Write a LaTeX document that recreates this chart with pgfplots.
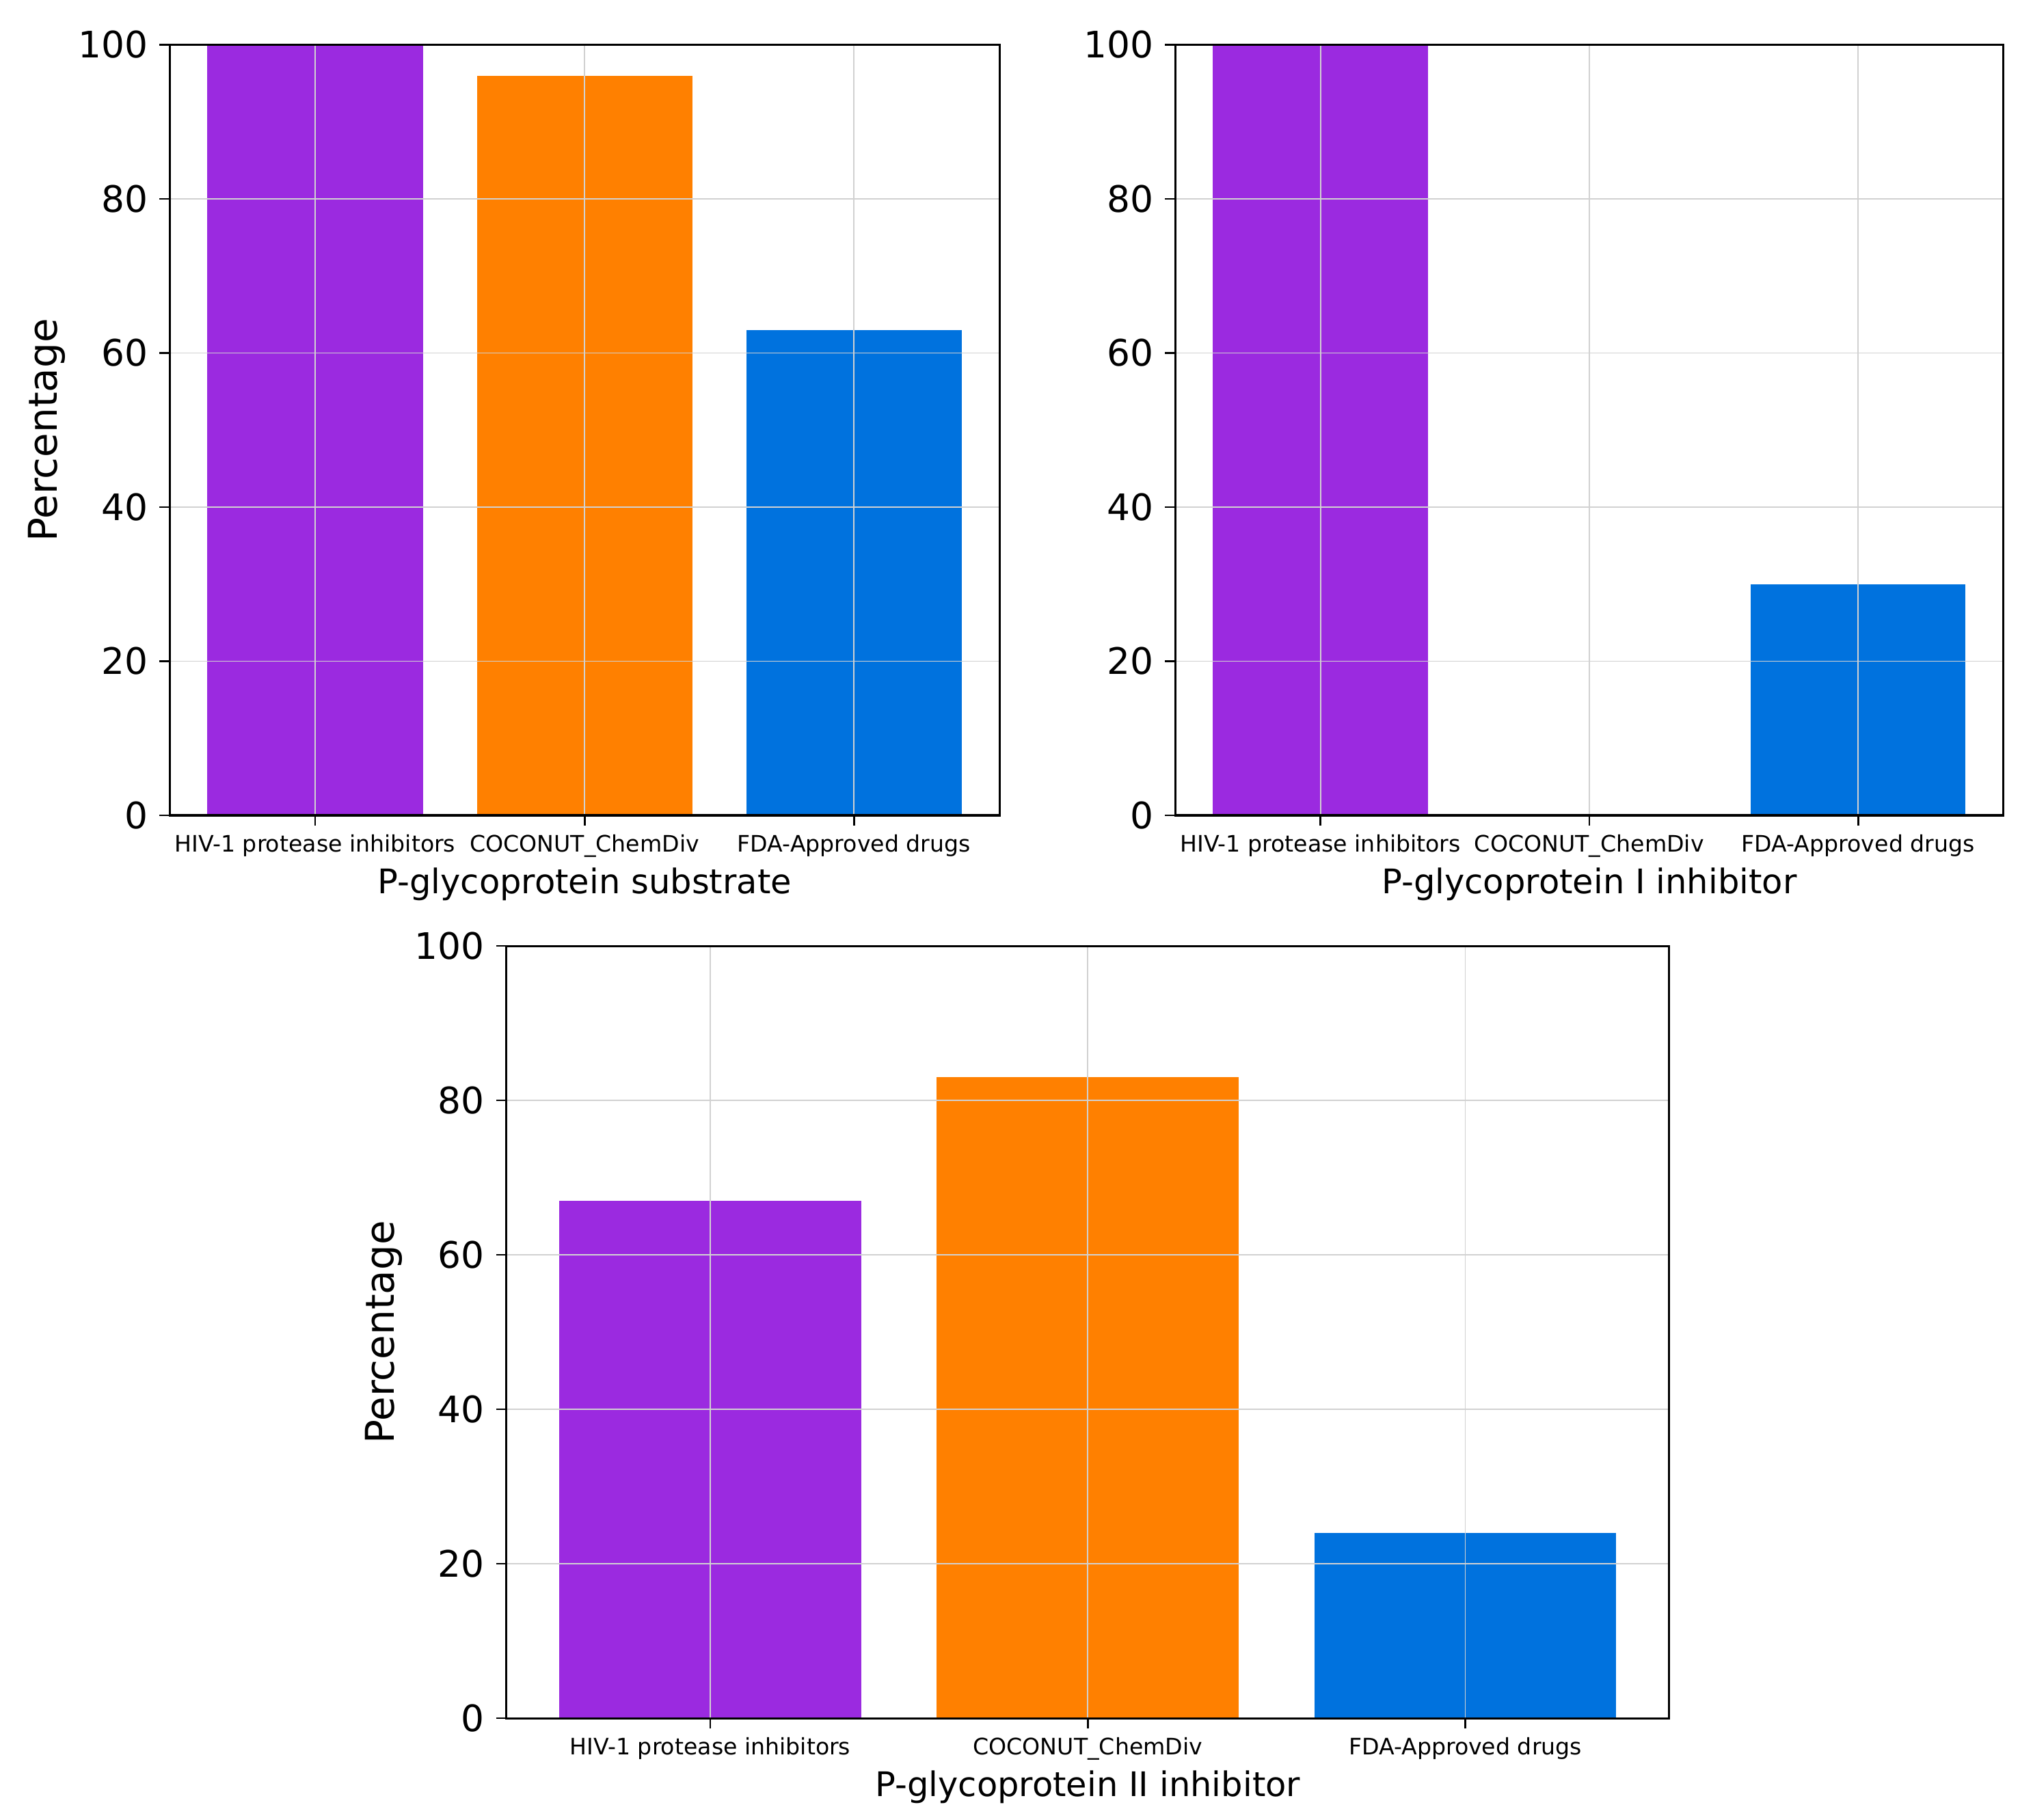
\documentclass[border=0pt]{standalone}
\usepackage{fontspec}
\setmainfont{DejaVu Sans}
\usepackage{pgfplots}
\pgfplotsset{compat=1.18}
\definecolor{cPur}{RGB}{155,42,224}
\definecolor{cOra}{RGB}{255,128,0}
\definecolor{cBlu}{RGB}{0,114,222}
\pgfplotsset{
  panel/.style={
    scale only axis,
    anchor=south west,
    height=295.7pt,
    xmin=-0.54, xmax=2.54,
    ymin=0, ymax=100,
    xtick={0,1,2},
    xticklabels={HIV-1 protease inhibitors,COCONUT\_ChemDiv,FDA-Approved drugs},
    ytick={0,20,40,60,80,100},
    tick align=outside,
    tick pos=left,
    major tick length=3.9pt,
    every tick/.style={black, line width=0.7pt},
    axis line style={line width=0.8pt},
    grid=major,
    major grid style={color=black!18, line width=0.5pt},
    axis on top,
    /pgf/number format/assume math mode=true,
    yticklabel style={font=\fontsize{14}{16}\selectfont, xshift=-1pt},
    xticklabel style={font=\fontsize{8.7}{10}\selectfont, yshift=0pt},
    xlabel style={font=\fontsize{13}{15}\selectfont, yshift=2.8pt},
    ylabel style={font=\fontsize{15.2}{17}\selectfont, yshift=-2pt},
  },
  b/.style={ybar, bar shift=0pt, bar width=0.8, draw=none, fill=#1},
}
\begin{document}
\begin{tikzpicture}
\useasboundingbox (0,0) rectangle (780pt,698.4pt);
\begin{axis}[panel, at={(65.1pt,385.5pt)}, width=318.4pt,
  xlabel={P-glycoprotein substrate}, ylabel={Percentage}]
\addplot[b=cPur] coordinates {(0,100)};
\addplot[b=cOra] coordinates {(1,96)};
\addplot[b=cBlu] coordinates {(2,63)};
\end{axis}
\begin{axis}[panel, at={(450.9pt,385.5pt)}, width=317.7pt,
  xlabel={P-glycoprotein I inhibitor}]
\addplot[b=cPur] coordinates {(0,100)};
\addplot[b=cOra] coordinates {(1,0)};
\addplot[b=cBlu] coordinates {(2,30)};
\end{axis}
\begin{axis}[panel, at={(194.3pt,39pt)}, width=446.1pt, height=296.4pt,
  xlabel={P-glycoprotein II inhibitor}, ylabel={Percentage}]
\addplot[b=cPur] coordinates {(0,67)};
\addplot[b=cOra] coordinates {(1,83)};
\addplot[b=cBlu] coordinates {(2,24)};
\end{axis}
\end{tikzpicture}
\end{document}
